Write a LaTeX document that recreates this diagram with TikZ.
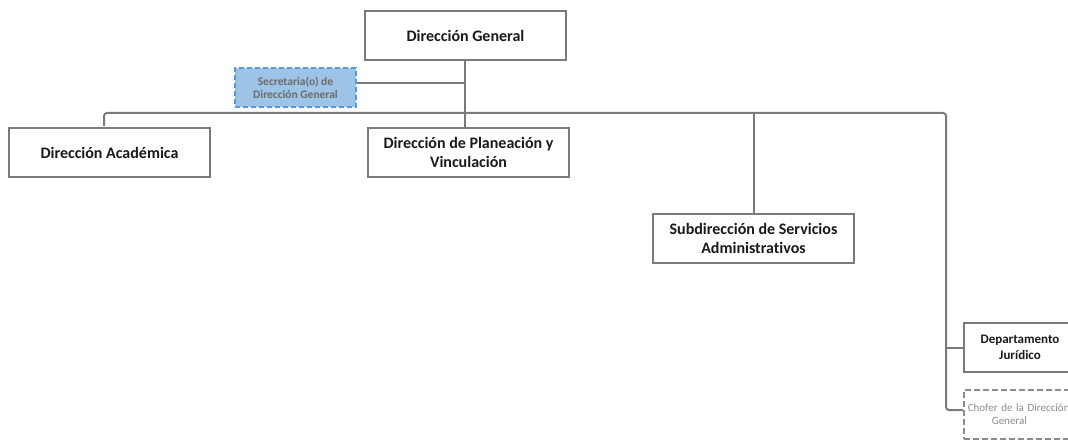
\documentclass[tikz,border=0pt]{standalone}
\usepackage{fontspec}
\setmainfont{Carlito}[Ligatures=NoCommon]
\definecolor{linegray}{HTML}{7A7A7A}
\definecolor{txtdark}{HTML}{1A1A1A}
\definecolor{secfill}{HTML}{9DC3E6}
\definecolor{secline}{HTML}{5B9BD5}
\definecolor{secText}{HTML}{6B6B6B}
\definecolor{softgray}{HTML}{8C8C8C}
\tikzset{
  orgbox/.style={draw=linegray, line width=2pt, fill=white, text=txtdark,
    font=\bfseries\fontsize{16}{18.5}\selectfont, align=center,
    inner sep=0pt, minimum width=201pt, minimum height=49pt, anchor=north west},
  smallbox/.style={orgbox, font=\bfseries\fontsize{13}{16}\selectfont},
  secbox/.style={draw=secline, dashed, dash pattern=on 5pt off 3pt, line width=2pt,
    fill=secfill, text=secText, font=\bfseries\fontsize{11.5}{13}\selectfont,
    align=center, inner sep=0pt, minimum width=121pt, minimum height=39pt, anchor=north west},
  drivebox/.style={draw=softgray, dashed, dash pattern=on 6pt off 3pt, line width=1.6pt,
    fill=white, text=softgray, font=\fontsize{11}{13}\selectfont,
    align=left, inner sep=0pt, minimum width=201pt, minimum height=49pt, anchor=north west},
  link/.style={draw=linegray, line width=2pt, rounded corners=3pt},
}
\begin{document}
\begin{tikzpicture}[x=1pt, y=-1pt]
\useasboundingbox (0,0) rectangle (1068,441);
\begin{scope}
\clip (0,0) rectangle (1068,441);

% connector end points on the main bus
\coordinate (busl) at (104,113);
\coordinate (busr) at (946,113);

% connectors (drawn first so boxes sit on top)
\draw[link] (busl |- 0,126) -- (busl) -- (busr) -- (busr |- 0,410) -- (963,410);
\draw[link] (465,59) -- (465,127);
\draw[link] (355,83) -- (465,83);
\draw[link] (754,113) -- (754,213);
\draw[link] (busr |- 0,348) -- (963,348);

% boxes
\node[orgbox] (dg) at (364,10) {Dirección General};
\node[secbox] (sec) at (234,67) {Secretaria(o) de\\Dirección General};
\node[orgbox] (da) at (8,127) {Dirección Académica};
\node[orgbox] (dpv) at (367,127) {Dirección de Planeación y\\Vinculación};
\node[orgbox] (sub) at (652,213) {Subdirección de Servicios\\Administrativos};
\node[smallbox, minimum width=150pt, text width=150pt, align=left] (dep) at (963,322)
  {\makebox[112pt][c]{Departamento}\\\makebox[112pt][c]{Jurídico}};
\node[drivebox, minimum width=150pt, text width=150pt] (chofer) at (963,389)
  {\hspace*{4pt}Chofer de la Dirección\\\hspace*{28pt}General};
\end{scope}
\end{tikzpicture}
\end{document}
